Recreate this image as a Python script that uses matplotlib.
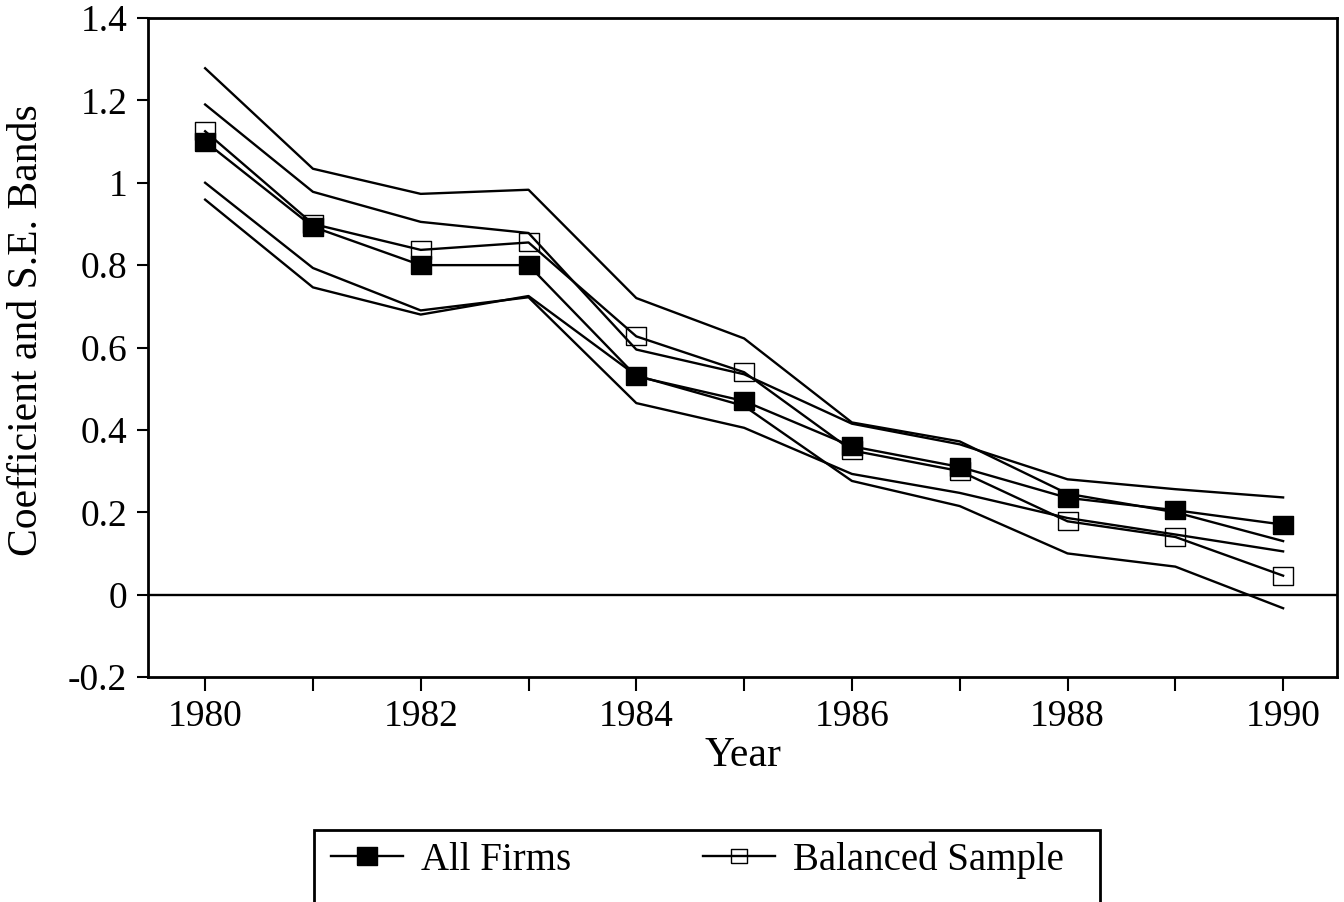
import numpy as np
import matplotlib
matplotlib.use("Agg")
import matplotlib.pyplot as plt
from matplotlib.patches import Rectangle

plt.rcParams['font.family'] = ['Liberation Serif', 'DejaVu Serif']

years = [1980, 1981, 1982, 1983, 1984, 1985, 1986, 1987, 1988, 1989, 1990]

# All firms: coefficient and S.E. bands
all_coef = [1.10, 0.893, 0.80, 0.80, 0.53, 0.47, 0.36, 0.31, 0.235, 0.205, 0.17]
all_upper = [1.19, 0.978, 0.905, 0.878, 0.595, 0.535, 0.415, 0.365, 0.28, 0.256, 0.236]
all_lower = [1.00, 0.793, 0.69, 0.722, 0.465, 0.405, 0.293, 0.247, 0.186, 0.146, 0.105]

# Balanced sample: coefficient and S.E. bands
bal_coef = [1.125, 0.90, 0.837, 0.855, 0.627, 0.54, 0.35, 0.30, 0.178, 0.14, 0.046]
bal_upper = [1.278, 1.034, 0.973, 0.983, 0.72, 0.622, 0.418, 0.372, 0.245, 0.20, 0.13]
bal_lower = [0.959, 0.746, 0.68, 0.725, 0.532, 0.458, 0.276, 0.215, 0.10, 0.068, -0.033]

ytick_vals = [-0.2, 0, 0.2, 0.4, 0.6, 0.8, 1.0, 1.2, 1.4]
ytick_labels = ['-0.2', '0', '0.2', '0.4', '0.6', '0.8', '1', '1.2', '1.4']
xtick_major = [1980, 1982, 1984, 1986, 1988, 1990]

# slightly wide square marker
box = [(-1.15, -1), (1.15, -1), (1.15, 1), (-1.15, 1), (-1.15, -1)]

fig = plt.figure(figsize=(13.44, 9.02), dpi=100)
ax = fig.add_axes([148/1344, 1 - 677/902, (1337-148)/1344, (677-18)/902])

ax.axhline(0, color='black', lw=1.7, zorder=1)

for band in [bal_upper, all_upper, all_lower, bal_lower]:
    ax.plot(years, band, color='black', lw=1.7, zorder=2)

ax.plot(years, bal_coef, color='black', lw=1.7, marker=box, markersize=15,
        markerfacecolor='none', markeredgecolor='black', markeredgewidth=1.0, zorder=3)
ax.plot(years, all_coef, color='black', lw=1.7, marker=box, markersize=15,
        markerfacecolor='black', markeredgecolor='black', zorder=4)

ax.set_xlim(1979.47, 1990.5)
ax.set_ylim(-0.2, 1.4)
ax.set_yticks(ytick_vals)
ax.set_yticklabels(ytick_labels)
ax.set_xticks(xtick_major)
ax.set_xticks(years, minor=True)
ax.tick_params(axis='both', which='both', direction='out', width=1.5, labelsize=27, colors='black')
ax.tick_params(axis='y', length=8, pad=7)
ax.tick_params(axis='x', which='both', length=10, pad=6)
for s in ax.spines.values():
    s.set_linewidth(2)

ax.set_xlabel('Year', fontsize=30, labelpad=2)
ax.set_ylabel('Coefficient and S.E. Bands', fontsize=30)
ax.yaxis.set_label_coords(-0.0858, 0.527)

# legend box, cut off by the bottom of the figure
fig.patches.append(Rectangle((314/1344, -0.05), (1100-314)/1344, 0.05 + 1 - 830/902,
                             transform=fig.transFigure, fill=False, lw=2, edgecolor='black'))
h1, = ax.plot([], [], color='black', lw=1.7, marker=box, markersize=15,
              markerfacecolor='black', markeredgecolor='black')
h2, = ax.plot([], [], color='black', lw=1.7, marker=box, markersize=11,
              markerfacecolor='none', markeredgecolor='black', markeredgewidth=1.0)
fig.legend([h1, h2], ['All Firms', 'Balanced Sample'], loc='center left',
           bbox_to_anchor=(312/1344, 1 - 860/902), ncol=2, frameon=False,
           fontsize=28, borderpad=0, handlelength=1.85, handletextpad=0.45,
           columnspacing=3.4)

fig.savefig('out.png', dpi=100)
